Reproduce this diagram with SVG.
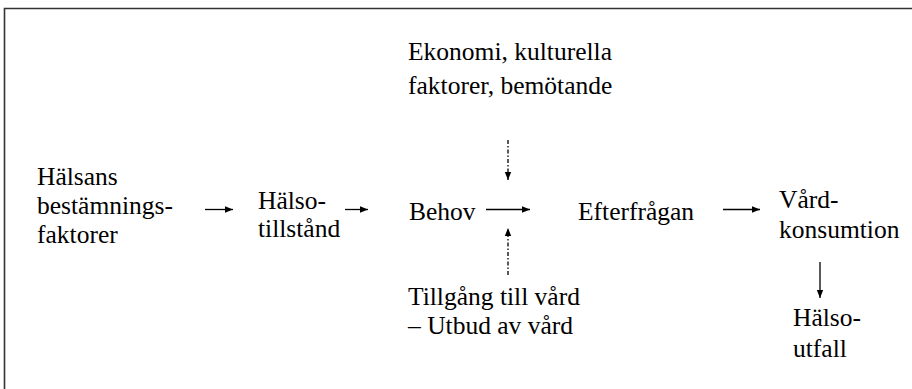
<svg xmlns="http://www.w3.org/2000/svg" width="912" height="389" viewBox="0 0 912 389">
<style>
text{font-family:"Liberation Serif","Times New Roman",serif;font-size:25.5px;fill:#000}
.c{stroke:#000;stroke-width:1.3;fill:none}
.d{stroke-dasharray:4 2 1.5 2}
</style>
<defs>
<marker id="ah" viewBox="0 0 10 10" refX="10" refY="5" markerWidth="8" markerHeight="8" markerUnits="userSpaceOnUse" orient="auto"><path d="M0,1 L10,5 L0,9 Z" fill="#000"/></marker>
</defs>
<rect width="912" height="389" fill="#fff"/>
<path d="M4.5,389 V8.5 H912" fill="none" stroke="#333" stroke-width="1.6"/>
<g id="n1"><text x="37" y="185">Hälsans</text><text x="37" y="214">bestämnings-</text><text x="37" y="243">faktorer</text></g>
<g id="n2"><text x="258" y="209">Hälso-</text><text x="258" y="237">tillstånd</text></g>
<g id="n3"><text x="409" y="220">Behov</text></g>
<g id="n4"><text x="578" y="220">Efterfrågan</text></g>
<g id="n5"><text x="779" y="208">Vård-</text><text x="779" y="238">konsumtion</text></g>
<g id="n6"><text x="408" y="60">Ekonomi, kulturella</text><text x="408" y="94">faktorer, bemötande</text></g>
<g id="n7"><text x="408" y="305">Tillgång till vård</text><text x="408" y="334">– Utbud av vård</text></g>
<g id="n8"><text x="793" y="326">Hälso-</text><text x="793" y="357">utfall</text></g>
<g id="connectors">
<line class="c" x1="205" y1="209.5" x2="233" y2="209.5" marker-end="url(#ah)"/>
<line class="c" x1="345" y1="209.5" x2="368" y2="209.5" marker-end="url(#ah)"/>
<line class="c" x1="486" y1="209.5" x2="530" y2="209.5" marker-end="url(#ah)"/>
<line class="c" x1="723" y1="209.5" x2="760" y2="209.5" marker-end="url(#ah)"/>
<line class="c" x1="820" y1="262" x2="820" y2="298" marker-end="url(#ah)"/>
<line class="c d" x1="508" y1="140" x2="508" y2="180" marker-end="url(#ah)"/>
<line class="c d" x1="508" y1="275" x2="508" y2="228" marker-end="url(#ah)"/>
</g>
</svg>
